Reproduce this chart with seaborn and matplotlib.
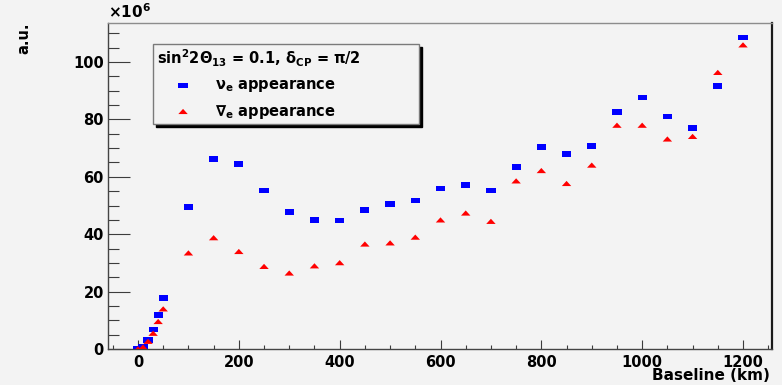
import numpy as np
import pandas as pd
import matplotlib
matplotlib.use("Agg")
import matplotlib.pyplot as plt
from matplotlib.path import Path
from matplotlib.ticker import MultipleLocator
import seaborn as sns

# ---- data (values in units of 10^6) ----
baseline = [0, 10, 20, 30, 40, 50, 100, 150, 200, 250, 300, 350, 400, 450, 500,
            550, 600, 650, 700, 750, 800, 850, 900, 950, 1000, 1050, 1100, 1150, 1200]
nue_app = [0.0, 0.8, 3.1, 6.8, 11.8, 17.8, 49.5, 66.2, 64.5, 55.2, 47.7, 44.9, 44.7, 48.4, 50.5,
           51.7, 56.0, 57.1, 55.2, 63.4, 70.4, 67.9, 70.8, 82.6, 87.6, 81.1, 77.1, 91.7, 108.5]
nuebar_app = [0.0, 0.6, 2.6, 5.4, 9.5, 13.9, 33.4, 38.7, 33.9, 28.7, 26.4, 28.9, 30.0, 36.5, 36.9,
              38.9, 44.9, 47.3, 44.4, 58.5, 62.1, 57.6, 64.0, 77.9, 77.9, 73.1, 74.0, 96.3, 105.9]
labels = ["ν$_{e}$ appearance", "∇$_{e}$ appearance"]
header = "sin$^{2}$2Θ$_{13}$ = 0.1, δ$_{CP}$ = π/2"

df_nue = pd.DataFrame({"Baseline": baseline, "val": nue_app})
df_bar = pd.DataFrame({"Baseline": baseline, "val": nuebar_app})

BG = "#f3f3f3"
sns.set_style("ticks")
plt.rcParams["font.family"] = ["DejaVu Sans"]
plt.rcParams["font.weight"] = "bold"
plt.rcParams["mathtext.fontset"] = "dejavusans"
plt.rcParams["mathtext.default"] = "bf"
plt.rcParams["text.color"] = "black"
plt.rcParams["xtick.labelcolor"] = "black"
plt.rcParams["ytick.labelcolor"] = "black"

fig = plt.figure(figsize=(7.82, 3.85), dpi=100, facecolor=BG)
ax = fig.add_axes([108 / 782, 36 / 385, 664 / 782, 326 / 385])
ax.set_facecolor(BG)

rect = Path([(-1, -0.6), (1, -0.6), (1, 0.6), (-1, 0.6), (-1, -0.6)],
            [Path.MOVETO, Path.LINETO, Path.LINETO, Path.LINETO, Path.CLOSEPOLY])
tri = Path([(-1, -0.5), (1, -0.5), (0, 0.6), (-1, -0.5)],
           [Path.MOVETO, Path.LINETO, Path.LINETO, Path.CLOSEPOLY])

sns.scatterplot(data=df_nue, x="Baseline", y="val", ax=ax, marker=rect, s=44,
                color="#0000ff", edgecolor="none", linewidth=0, label=labels[0], zorder=3)
sns.scatterplot(data=df_bar, x="Baseline", y="val", ax=ax, marker=tri, s=46,
                color="#ff0000", edgecolor="none", linewidth=0, label=labels[1], zorder=4)

ax.set_xlim(-59.5, 1257.5)
ax.set_ylim(0, 113.6)
ax.set_xlabel("")
ax.set_ylabel("")

ax.xaxis.set_major_locator(MultipleLocator(200))
ax.xaxis.set_minor_locator(MultipleLocator(50))
ax.yaxis.set_major_locator(MultipleLocator(20))
ax.yaxis.set_minor_locator(MultipleLocator(5))
tc = "#3c3c3c"
ax.tick_params(axis="x", which="major", direction="in", length=6.5, width=0.8, color=tc,
               labelsize=10.5, pad=4, top=False, labelcolor="black")
ax.tick_params(axis="x", which="minor", direction="in", length=3.2, width=0.8, color=tc, top=False)
ax.tick_params(axis="y", which="major", direction="in", length=16, width=0.8, color=tc,
               labelsize=10.5, pad=3, right=False, labelcolor="black")
ax.tick_params(axis="y", which="minor", direction="in", length=8, width=0.8, color=tc, right=False)
for lab in ax.get_xticklabels() + ax.get_yticklabels():
    lab.set_fontweight("bold")

ax.spines["left"].set_color("#444444")
ax.spines["bottom"].set_color("#444444")
ax.spines["top"].set_color("#8c8c8c")
ax.spines["right"].set_color("#1a1a1a")
for sp in ["left", "bottom", "top"]:
    ax.spines[sp].set_linewidth(1.0)
ax.spines["right"].set_linewidth(1.6)

ax.text(0.0, 1.006, "×10$^{6}$", transform=ax.transAxes, ha="left", va="bottom",
        fontsize=11, fontweight="bold", color="black")
fig.text(23.5 / 782, 1 - 22 / 385, "a.u.", rotation=90, ha="center", va="top",
         fontsize=10.5, fontweight="bold", color="black")
fig.text(770 / 782, 1 - 376 / 385, "Baseline (km)", ha="right", va="center",
         fontsize=11, fontweight="bold", color="black")

handles, labs = ax.get_legend_handles_labels()
leg = ax.legend(handles, labs, title=header, loc="upper left",
                bbox_to_anchor=(0.068, 0.69, 0.40, 0.246), mode="expand", borderaxespad=0,
                frameon=True, fancybox=False, shadow={"color": "black", "alpha": 1},
                alignment="left", handlelength=3.6, handletextpad=0.4, labelspacing=0.57,
                borderpad=0.25, scatterpoints=1,
                title_fontproperties={"weight": "bold", "size": 10.5},
                prop={"weight": "bold", "size": 10.5})
leg.get_title().set_color("black")
for t in leg.get_texts():
    t.set_color("black")
fr = leg.get_frame()
fr.set_edgecolor("#7a7a7a")
fr.set_facecolor(BG)
fr.set_alpha(1)
fr.set_linewidth(1.0)

fig.savefig("out.png", dpi=100, facecolor=BG)
